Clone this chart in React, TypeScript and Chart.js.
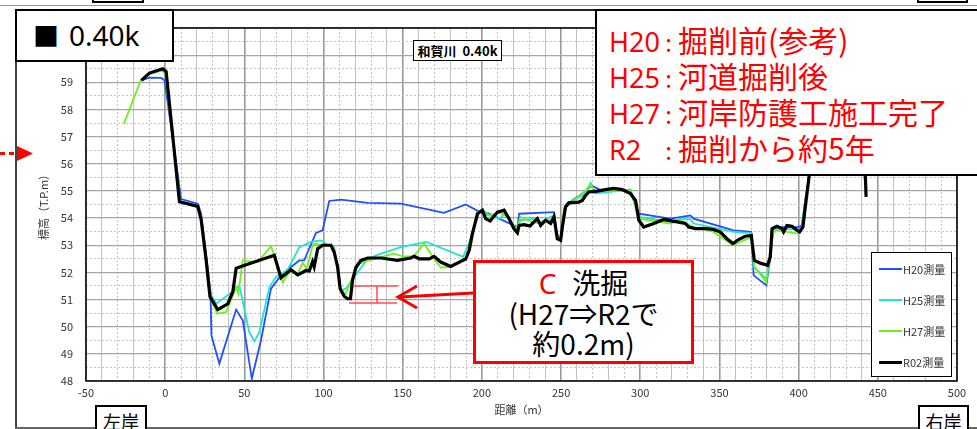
import React, { useEffect, useRef } from "react";
import { Chart, registerables } from "chart.js";

Chart.register(...registerables);

// ---- data (distance m, elevation T.P.m) ----
const r02Points: [number, number][] = [
  [-15, 59.07], [-10, 59.34], [-1.5, 59.5], [0.6, 59.4], [9, 54.6], [20.6, 54.43], [22.7, 53.95], [25.9, 52.44],
  [28.3, 51.1], [33.2, 50.63], [39.5, 50.84], [42.7, 51.28], [44.8, 52.15], [47.9, 52.22], [68.9, 52.63], [73.1, 51.8],
  [79.4, 52.1], [83.7, 51.91], [88.9, 52.07], [91, 52.05], [93.1, 52.4], [94.1, 52.21], [96.3, 52.87], [99.4, 53.0],
  [104.7, 53.0], [106.7, 52.75], [108.9, 52.2], [110.5, 51.4], [113, 51.12], [115.2, 51.03], [117, 51.03], [118.3, 51.71],
  [120.4, 52.18], [123.6, 52.44], [127.8, 52.53], [136.2, 52.53], [146.7, 52.44], [155.1, 52.53], [157.2, 52.59], [160.4, 52.5],
  [166.7, 52.5], [169.8, 52.59], [174, 52.38], [180.3, 52.22], [189.8, 52.5], [191.9, 52.8], [194, 53.43], [197.2, 54.16],
  [200.3, 54.29], [202.4, 53.98], [205.2, 53.89], [209.8, 54.22], [214, 54.29], [217.1, 53.98], [220.2, 53.61], [222.4, 53.46],
  [223.5, 53.73], [226.6, 53.76], [230.4, 53.71], [232.9, 53.86], [235, 53.98], [237.1, 53.73], [240.2, 53.92], [243.4, 53.8],
  [245.5, 54.04], [247.6, 53.24], [249.7, 53.18], [250.8, 53.67], [252.8, 54.41], [254.9, 54.56], [261.2, 54.59], [263.4, 54.65],
  [265.5, 54.84], [267.5, 54.96], [272.8, 54.99], [278.1, 55.05], [283.3, 55.09], [288.6, 55.05], [293.8, 54.9], [297, 54.65],
  [299.1, 53.92], [302.2, 53.67], [308.5, 53.8], [314.8, 53.95], [323.3, 53.86], [328.5, 53.8], [330.6, 53.67], [334.8, 53.61],
  [342.2, 53.61], [346.3, 53.58], [350.5, 53.49], [354.7, 53.24], [358.5, 53.06], [362.1, 53.21], [366.3, 53.33], [370.1, 53.36],
  [372, 52.44], [375.8, 52.34], [380.4, 52.26], [382.1, 52.57], [383.2, 53.61], [386.3, 53.7], [389.5, 53.61], [390.5, 53.49],
  [392.6, 53.73], [395.8, 53.7], [398.9, 53.55], [400.6, 53.49], [402.7, 53.67], [404.2, 54.41], [406.3, 55.39], [412, 58.3],
  [425, 59.5], [437, 59.3], [441, 56.8], [442.2, 55.4], [442.6, 54.78],
];

const h20Points: [number, number][] = [
  [-15, 59.07], [-9.9, 59.17], [-2.5, 59.16], [-0.4, 59.07], [10.1, 54.7], [20.6, 54.53], [22.7, 54.16], [28.6, 51.28],
  [29.2, 49.68], [34.2, 48.64], [44.8, 50.63], [49, 50.23], [54.7, 48.09], [60.5, 49.5], [66.8, 51.4], [73.1, 51.89],
  [79.4, 52.2], [84.7, 52.44], [87.8, 52.44], [90, 52.75], [94.1, 53.3], [95.2, 53.45], [99.4, 53.55], [103.6, 54.63],
  [111, 54.68], [127.8, 54.56], [148.8, 54.53], [176.1, 54.19], [189.8, 54.5], [198.8, 54.22], [204.5, 54.16], [211.9, 53.95],
  [222.4, 53.67], [223.5, 54.16], [245.5, 54.22], [247.6, 53.31], [249.7, 53.18], [250.8, 53.8], [252.8, 54.47], [266, 55.02],
  [269.1, 55.2], [274.4, 55.05], [293.8, 55.02], [299.1, 54.16], [319, 53.98], [331.7, 54.1], [333.7, 53.98], [358.9, 53.55],
  [370.1, 53.49], [371.6, 51.89], [379.6, 51.52], [382.1, 52.57], [384.2, 53.67], [399.9, 53.67], [402, 53.73], [404.2, 54.65],
  [406.3, 55.39], [412, 58.3], [425, 59.4], [437, 59.2], [441, 57.0],
];

const h25Points: [number, number][] = [
  [-15, 59.07], [-10, 59.3], [-1.5, 59.45], [0.5, 59.3], [9.5, 54.62], [20.6, 54.45], [22.7, 54.05], [28.6, 51.22],
  [32.2, 50.85], [43.7, 51.34], [46.8, 51.52], [53.1, 49.8], [56.3, 49.47], [59.5, 49.8], [65.8, 51.46], [70, 51.83],
  [77.2, 52.08], [84.7, 52.93], [92, 53.12], [94.1, 53.14], [98.4, 53.18], [102.5, 53.0], [106.7, 52.93], [110.9, 51.34],
  [114.1, 51.4], [119.4, 51.83], [127.8, 52.5], [136.2, 52.69], [148.8, 52.93], [165, 53.12], [188.1, 52.57], [192, 53.1],
  [198.2, 54.22], [200.5, 54.3], [204.5, 54.1], [211.9, 53.98], [214, 54.2], [217, 54.0], [221.3, 53.61], [224.5, 53.92],
  [232.9, 53.98], [237, 53.85], [245.5, 54.1], [247.6, 53.36], [249.7, 53.22], [250.8, 53.8], [253.5, 54.53], [266, 54.9],
  [268.7, 55.29], [271.2, 54.9], [293.8, 55.05], [299.1, 54.04], [319, 53.86], [325.3, 53.98], [331.7, 53.95], [333.7, 53.8],
  [358.9, 53.49], [370.1, 53.45], [371.6, 52.2], [379.6, 51.77], [382.1, 52.63], [384.2, 53.61], [399.9, 53.58], [402, 53.65],
  [404.5, 54.78], [406.5, 55.5], [412, 58.3], [425, 59.4], [437, 59.2], [441, 56.8],
];

const h27Points: [number, number][] = [
  [-26, 57.48], [-15.5, 59.07], [-10, 59.3], [-1.5, 59.45], [0.3, 59.2], [9.2, 54.62], [20.6, 54.4], [22.7, 54.04],
  [28, 51.16], [32.8, 50.48], [38.5, 50.54], [44.8, 51.46], [46.2, 51.22], [49, 52.44], [58.4, 52.38], [66.8, 52.96],
  [70, 52.44], [74.2, 51.64], [78.4, 52.01], [83.7, 51.95], [86.8, 52.35], [89.5, 52.14], [93.1, 53.0], [94.1, 53.06],
  [100.4, 53.0], [104.7, 53.0], [106.7, 52.87], [110.9, 51.34], [114, 51.2], [118, 51.8], [122, 52.3], [127.8, 52.44],
  [136.2, 52.55], [143.9, 52.69], [150.2, 52.59], [157, 52.6], [163.5, 53.06], [169.8, 52.5], [174, 52.18], [180.3, 52.2],
  [189.8, 52.47], [192.9, 52.93], [197.2, 54.22], [200.3, 54.31], [203, 54.1], [211.9, 54.19], [217, 54.0], [221.3, 53.55],
  [224.5, 54.04], [230, 53.9], [235, 53.82], [240, 53.9], [245.5, 53.95], [247.6, 53.43], [249.7, 53.2], [251.8, 54.35],
  [266, 55.05], [268.1, 55.24], [271.2, 55.02], [293.8, 55.0], [299.1, 53.98], [319, 53.8], [325.3, 53.92], [333.7, 53.67],
  [346, 53.5], [358.5, 53.0], [370.1, 53.3], [372, 52.2], [379.6, 51.64], [383.2, 53.43], [386.3, 53.55], [399.9, 53.43],
  [402, 53.6], [404.5, 54.6], [406.3, 55.39], [412, 58.3], [425, 59.4], [437, 59.2], [441, 57.0], [442.9, 55.1],
];

const seriesLabels = ["H20測量", "H25測量", "H27測量", "R02測量"];
const seriesColors = ["#1f4fff", "#22e3d0", "#6cf020", "#000000"];
const xMin = -50, xMax = 500, xStep = 10, xLabelStep = 50;
const yMin = 48, yMax = 61, yStep = 0.5;
const yTitle = "標高（T.P.m）";
const xTitle = "距離（m）";
const chartTitle = "和賀川\u00a0\u00a00.40k";
const noteLines = [
  ["H20", "掘削前(参考)"],
  ["H25", "河道掘削後"],
  ["H27", "河岸防護工施工完了"],
  ["R2", "掘削から約5年"],
];

const FONT = "'Noto Sans CJK JP', 'Noto Sans', sans-serif";

const isInt = (v: number) => Math.abs(v - Math.round(v)) < 1e-6;

const framePlugin = {
  id: "frame",
  beforeDatasetsDraw(chart: any) {
    const { ctx, chartArea } = chart;
    ctx.save();
    ctx.strokeStyle = "#000";
    ctx.lineWidth = 1.5;
    ctx.strokeRect(chartArea.left, chartArea.top, chartArea.right - chartArea.left, chartArea.bottom - chartArea.top);
    ctx.restore();
  },
};

export default function App() {
  const ref = useRef<HTMLCanvasElement>(null);

  useEffect(() => {
    const toPts = (a: [number, number][]) => a.map(([x, y]) => ({ x, y }));
    const all = [h20Points, h25Points, h27Points, r02Points];
    const chart = new Chart(ref.current as HTMLCanvasElement, {
      type: "line",
      data: {
        datasets: all.map((pts, i) => ({
          label: seriesLabels[i],
          data: toPts(pts),
          borderColor: seriesColors[i],
          backgroundColor: seriesColors[i],
          borderWidth: i === 3 ? 3.2 : 1.8,
          pointRadius: 0,
          tension: 0,
          fill: false,
          order: 4 - i,
        })),
      },
      options: {
        responsive: false,
        maintainAspectRatio: false,
        animation: false,
        layout: { padding: { left: 33, right: 20, top: 28, bottom: 10 } },
        plugins: { legend: { display: false }, tooltip: { enabled: false }, title: { display: false } },
        scales: {
          x: {
            type: "linear",
            min: xMin,
            max: xMax,
            afterFit: (s: any) => { s.height = 38; },
            ticks: {
              stepSize: xStep,
              autoSkip: false,
              maxRotation: 0,
              padding: 5,
              color: "#333",
              font: { family: FONT, size: 11 },
              callback: (v: any) => (Math.round(v) % xLabelStep === 0 ? String(Math.round(v)) : ""),
            },
            grid: {
              drawTicks: false,
              color: (c: any) => {
                const v = c.tick ? Math.round(c.tick.value) : null;
                if (v === null) return "#000";
                return v % 50 === 0 ? "#9a9a9a" : "#c2c2c2";
              },
              lineWidth: (c: any) => (c.tick && Math.round(c.tick.value) % 50 === 0 ? 1.6 : 1),
            },
            border: {
              display: false,
              dash: (c: any) => {
                if (!c.tick) return [];
                const v = Math.round(c.tick.value);
                return v % 50 !== 0 && v % 20 !== 0 ? [2, 2] : [];
              },
            },
            title: { display: true, text: xTitle, color: "#333", font: { family: FONT, size: 11 }, padding: { top: 0, bottom: 3 } },
          },
          y: {
            type: "linear",
            min: yMin,
            max: yMax,
            afterFit: (s: any) => { s.width = 53; },
            ticks: {
              stepSize: yStep,
              maxTicksLimit: 200,
              autoSkip: false,
              padding: 13,
              color: "#333",
              font: { family: FONT, size: 11 },
              callback: (v: any) => (isInt(v) ? String(Math.round(v)) : ""),
            },
            grid: {
              drawTicks: false,
              color: (c: any) => (c.tick && isInt(c.tick.value) ? "#a6a6a6" : "#c6c6c6"),
              lineWidth: (c: any) => (c.tick && isInt(c.tick.value) ? 1.3 : 1),
            },
            border: {
              display: false,
              dash: (c: any) => (c.tick && !isInt(c.tick.value) ? [2, 2] : []),
            },
            title: { display: true, text: yTitle, color: "#333", font: { family: FONT, size: 11 }, padding: { top: 4, bottom: 0 } },
          },
        },
      },
      plugins: [framePlugin],
    } as any);
    return () => chart.destroy();
  }, []);

  const abs = (s: React.CSSProperties): React.CSSProperties => ({ position: "absolute", boxSizing: "border-box", ...s });

  return (
    <div style={{ position: "fixed", left: 0, top: 0, width: 977, height: 429, background: "#fff", overflow: "hidden", fontFamily: FONT }}>
      {/* frame lines */}
      <div style={abs({ left: 0, top: 5, width: 977, height: 1, background: "#999" })} />
      <div style={abs({ left: 15, top: 9, width: 962, height: 1.5, background: "#222" })} />
      <div style={abs({ left: 15, top: 9, width: 1.5, height: 420, background: "#444" })} />
      <div style={abs({ left: 15, top: 427, width: 962, height: 1.5, background: "#666" })} />
      <div style={abs({ left: 92, top: -12, width: 52, height: 15, border: "2px solid #000", background: "#fff" })} />
      <div style={abs({ left: 917, top: -12, width: 51, height: 15, border: "2px solid #000", background: "#fff" })} />

      <canvas ref={ref} width={977} height={429} style={{ position: "absolute", left: 0, top: 0, width: 977, height: 429 }} />

      <svg width={977} height={429} style={{ position: "absolute", left: 0, top: 0 }}>
        <line x1={0} y1={153.5} x2={18} y2={153.5} stroke="#ff0000" strokeWidth={3} strokeDasharray="5 4" />
        <polygon points="17,146 33,153.5 17,161" fill="#ff0000" />
        <line x1={473} y1={293} x2={400} y2={297} stroke="#ff0000" strokeWidth={3} />
        <polyline points="417,286 398,297 417,308" fill="none" stroke="#ff0000" strokeWidth={3} />
        <line x1={353} y1={286} x2={398} y2={286} stroke="#ff4a4a" strokeWidth={1.5} />
        <line x1={349} y1={303} x2={397} y2={303} stroke="#ff4a4a" strokeWidth={1.5} />
        <line x1={377} y1={286} x2={377} y2={303} stroke="#ff4a4a" strokeWidth={1.5} />
      </svg>

      {/* section label */}
      <div style={abs({ left: 15, top: 9, width: 159, height: 53, border: "2px solid #000", background: "#fff" })}>
        <span style={{ position: "absolute", left: 16, top: 6, fontSize: 26, lineHeight: "36px", color: "#000" }}>■</span>
        <span style={{ position: "absolute", left: 52, top: 5, fontSize: 28, lineHeight: "38px", color: "#000", fontFamily: "'Noto Sans', sans-serif" }}>0.40k</span>
      </div>

      {/* chart title */}
      <div style={abs({ left: 413, top: 40, width: 89, height: 21, border: "1px solid #000", background: "#fff", fontSize: 13, fontWeight: 700, lineHeight: "19px", textAlign: "center", color: "#000", whiteSpace: "nowrap" })}>
        {chartTitle}
      </div>

      {/* notes box */}
      <div style={abs({ left: 595, top: 9, width: 392, height: 167, border: "2px solid #000", background: "#fff", paddingTop: 10, paddingLeft: 12, color: "#ff0000", fontSize: 30 })}>
        {noteLines.map(([k, t], i) => (
          <div key={i} style={{ height: 36, lineHeight: "36px", whiteSpace: "nowrap" }}>
            <span style={{ display: "inline-block", width: 50, fontFamily: "'Noto Sans', sans-serif", fontSize: 27 }}>{k}</span>
            <span style={{ display: "inline-block", width: 19, textAlign: "center", fontSize: 24 }}>:</span>
            <span style={{ fontSize: 30 }}>{t}</span>
          </div>
        ))}
      </div>

      {/* C box */}
      <div style={abs({ left: 473, top: 260, width: 221, height: 104, border: "3px solid #ff0000", background: "#fff", paddingTop: 4, textAlign: "center", fontSize: 28, lineHeight: "30px", color: "#000", whiteSpace: "nowrap" })}>
        <div><span style={{ color: "#ff0000", fontFamily: "'Noto Sans', sans-serif" }}>C</span><span style={{ marginLeft: 16 }}>洗掘</span></div>
        <div>(H27⇒R2で</div>
        <div>約0.2m)</div>
      </div>

      {/* legend */}
      <div style={abs({ left: 871, top: 252, width: 81, height: 125, border: "1.5px solid #000", background: "#fff" })}>
        {seriesLabels.map((l, i) => (
          <div key={l} style={{ position: "absolute", left: 7, top: 8 + i * 31, height: 16, display: "flex", alignItems: "center", whiteSpace: "nowrap" }}>
            <span style={{ display: "inline-block", width: 23, height: i === 3 ? 3 : 2, background: seriesColors[i] }} />
            <span style={{ fontSize: 11, color: "#333", marginLeft: 1 }}>{l}</span>
          </div>
        ))}
      </div>

      {/* bank labels */}
      <div style={abs({ left: 95, top: 405, width: 52, height: 34, border: "2px solid #000", background: "#fff", fontSize: 18, lineHeight: "28px", textAlign: "center", color: "#000" })}>左岸</div>
      <div style={abs({ left: 918, top: 405, width: 51, height: 34, border: "2px solid #000", background: "#fff", fontSize: 18, lineHeight: "28px", textAlign: "center", color: "#000" })}>右岸</div>
    </div>
  );
}
